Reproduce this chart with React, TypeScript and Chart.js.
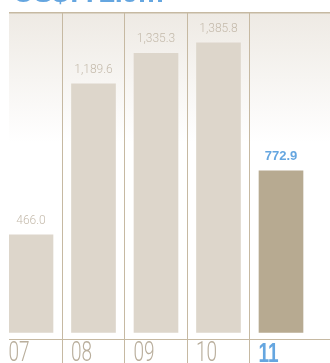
import { useEffect, useRef } from 'react';
import { Chart, registerables } from 'chart.js';

Chart.register(...registerables);

// Revenue by fiscal year (US$ m)
const years = ['07', '08', '09', '10', '11'];
const revenue = [466.0, 1189.6, 1335.3, 1385.8, 772.9];
const headline = 'US$772.9m';

// Value range of the vertical axis (bars rest slightly above the baseline rule)
const yMin = -32;
const yMax = 1528;

const BAR = '#ddd6cb';
const BAR_CURRENT = '#b7aa91';
const RULE = '#c6b9a2';
const VALUE_TEXT = '#c4baab';
const YEAR_TEXT = '#b9ae9c';
const BLUE = '#65a6e0';

const SANS = '"Liberation Sans", Arial, Helvetica, sans-serif';
const LIGHT = 'Roboto, "Liberation Sans", Arial, sans-serif';

const fmt = (v: number) =>
  v.toLocaleString('en-US', { minimumFractionDigits: 1, maximumFractionDigits: 1 });

// Soft beige wash fading to white at the top of the plot area
const backdrop = {
  id: 'backdrop',
  beforeDraw(chart: any) {
    const { ctx, chartArea } = chart;
    const g = ctx.createLinearGradient(0, chartArea.top, 0, chartArea.top + 130);
    g.addColorStop(0, '#eeeae4');
    g.addColorStop(1, '#ffffff');
    ctx.save();
    ctx.fillStyle = g;
    ctx.fillRect(chartArea.left, chartArea.top, chartArea.width, chartArea.height);
    ctx.restore();
  },
};

// Figures above each bar; the latest year is highlighted
const valueLabels = {
  id: 'valueLabels',
  afterDatasetsDraw(chart: any) {
    const { ctx } = chart;
    const meta = chart.getDatasetMeta(0);
    meta.data.forEach((bar: any, i: number) => {
      const current = i === revenue.length - 1;
      ctx.save();
      ctx.font = current ? `bold 13px ${SANS}` : `300 12px ${LIGHT}`;
      ctx.fillStyle = current ? BLUE : VALUE_TEXT;
      ctx.textAlign = 'center';
      ctx.textBaseline = 'middle';
      ctx.fillText(fmt(revenue[i]), bar.x, bar.y - 14);
      ctx.restore();
    });
  },
};

// Large condensed year labels, left-aligned with each bar
const yearLabels = {
  id: 'yearLabels',
  afterDraw(chart: any) {
    const { ctx, chartArea } = chart;
    const meta = chart.getDatasetMeta(0);
    years.forEach((yr, i) => {
      const bar: any = meta.data[i];
      const current = i === years.length - 1;
      const left = bar.x - bar.width / 2 - 0.5;
      ctx.save();
      ctx.translate(left, chartArea.bottom + 1);
      ctx.scale(0.68, 1);
      ctx.font = current ? `bold 28px ${SANS}` : `300 28px ${LIGHT}`;
      ctx.fillStyle = current ? BLUE : YEAR_TEXT;
      ctx.textAlign = 'left';
      ctx.textBaseline = 'top';
      ctx.fillText(yr, 0, 0);
      ctx.restore();
    });
  },
};

export default function App() {
  const canvasRef = useRef<HTMLCanvasElement | null>(null);

  useEffect(() => {
    const canvas = canvasRef.current;
    if (!canvas) return;
    const boundaries = years.slice(1).map((_, i) => i + 0.5);

    const chart = new Chart(canvas, {
      type: 'bar',
      data: {
        datasets: [
          {
            data: revenue.map((v, i) => ({ x: i, y: v })),
            backgroundColor: revenue.map((_, i) => (i === revenue.length - 1 ? BAR_CURRENT : BAR)),
            borderWidth: 0,
            barThickness: 44,
          },
        ],
      },
      options: {
        animation: false,
        responsive: false,
        devicePixelRatio: 1,
        layout: { padding: { left: 9, top: 13, right: 0, bottom: 0 } },
        plugins: { legend: { display: false }, tooltip: { enabled: false } },
        scales: {
          x: {
            type: 'linear',
            min: -0.352,
            max: 4.784,
            offset: false,
            afterBuildTicks: (s: any) => {
              s.ticks = boundaries.map((v) => ({ value: v }));
            },
            afterFit: (s: any) => {
              s.height = 31;
            },
            ticks: { display: false },
            grid: { offset: false, color: RULE, lineWidth: 1, drawTicks: true, tickLength: 31 },
            border: { display: true, color: RULE, width: 1 },
          },
          y: {
            min: yMin,
            max: yMax,
            afterBuildTicks: (s: any) => {
              s.ticks = [{ value: yMax }];
            },
            afterFit: (s: any) => {
              s.width = 0;
            },
            ticks: { display: false },
            grid: { color: RULE, lineWidth: 1.5, drawTicks: false },
            border: { display: false },
          },
        },
      } as any,
      plugins: [backdrop, valueLabels, yearLabels],
    });

    return () => chart.destroy();
  }, []);

  return (
    <div
      style={{
        position: 'fixed',
        left: 0,
        top: 0,
        width: 330,
        height: 363,
        overflow: 'hidden',
        background: '#ffffff',
      }}
    >
      <canvas
        ref={canvasRef}
        width={330}
        height={370}
        style={{ position: 'absolute', left: 0, top: 0, width: 330, height: 370, display: 'block' }}
      />
      <div
        style={{
          position: 'absolute',
          left: 13,
          top: -23,
          fontFamily: SANS,
          fontWeight: 'bold',
          fontSize: 29,
          lineHeight: '30px',
          letterSpacing: '-0.5px',
          color: BLUE,
          whiteSpace: 'nowrap',
        }}
      >
        {headline}
      </div>
    </div>
  );
}
